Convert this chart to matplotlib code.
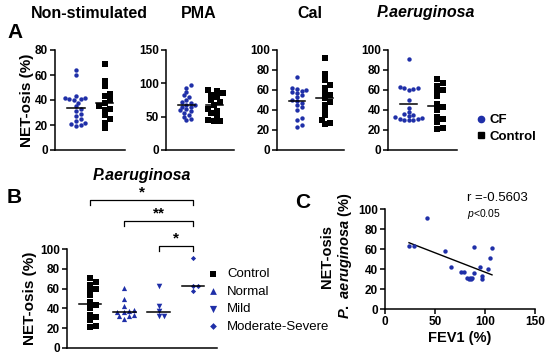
import numpy as np
import matplotlib.pyplot as plt
from matplotlib.lines import Line2D

plt.rcParams['font.family'] = ['Liberation Sans', 'DejaVu Sans']
plt.rcParams['font.weight'] = 'bold'
plt.rcParams['axes.labelweight'] = 'bold'
plt.rcParams['mathtext.fontset'] = 'custom'
plt.rcParams['mathtext.rm'] = 'Liberation Sans:bold'
plt.rcParams['mathtext.it'] = 'Liberation Sans:italic:bold'
plt.rcParams['mathtext.sf'] = 'Liberation Sans:italic:normal'

BLUE = '#1f2fa8'
W, H = 550, 359

# ---------------- data ----------------
# panel A: CF vs Control, four stimuli
a_titles = ['Non-stimulated', 'PMA', 'Cal', 'P.aeruginosa']
a_ymax = [80, 150, 100, 100]
a_ystep = [20, 50, 20, 20]
a_cf = [
    [64, 60, 43, 42, 42, 41, 41, 40, 38, 35, 33, 31, 29, 27, 25, 23, 22, 21, 20, 19],
    [97, 93, 87, 82, 80, 75, 72, 70, 68, 67, 65, 64, 62, 60, 58, 56, 53, 50, 47, 45],
    [73, 62, 61, 60, 59, 58, 57, 55, 53, 50, 49, 47, 45, 43, 40, 32, 30, 25, 23],
    [91, 63, 62, 62, 61, 60, 50, 42, 38, 36, 35, 34, 33, 32, 31, 31, 30, 30, 30],
]
a_ctrl = [
    [69, 55, 51, 45, 43, 40, 38, 35, 33, 32, 28, 25, 22, 18],
    [90, 88, 85, 83, 80, 75, 72, 68, 62, 58, 55, 50, 45, 43, 43],
    [92, 76, 70, 65, 62, 57, 55, 52, 48, 45, 40, 35, 30, 27, 26],
    [71, 67, 64, 60, 59, 54, 46, 43, 40, 33, 31, 28, 22, 21],
]
a_cf_lines = [34, 67, 49, 46]
a_ctrl_lines = [38, 67, 52, 44]

# panel B: P.aeruginosa by disease severity
b_groups = ['Control', 'Normal', 'Mild', 'Moderate-Severe']
b_values = [
    [71, 67, 64, 60, 59, 54, 46, 43, 40, 33, 31, 28, 22, 21],
    [61, 50, 42, 38, 37, 36, 36, 33, 32, 32, 29],
    [63, 42, 37, 32, 32],
    [91, 63, 63, 58],
]
b_lines = [44, 36, 36, 63]
b_stars = ['*', '**', '*']
b_pairs = [(0, 3), (1, 3), (2, 3)]

# panel C: correlation with FEV1
fev1 = [24, 29, 42, 60, 66, 76, 79, 89, 89, 82, 84, 85, 86, 87, 95, 97, 97, 103, 105, 107]
net_pa = [63, 63, 91, 58, 42, 37, 37, 62, 36, 31, 30, 31, 30, 31, 42, 33, 30, 40, 51, 61]
r_text = 'r =-0.5603'


def box(x0, x1, y0, y1):
    # pixel rectangle -> figure fraction
    return [x0 / W, 1 - y1 / H, (x1 - x0) / W, (y1 - y0) / H]


def swarm(vals, center, sx, sy, d=3.6):
    # simple beeswarm: sx, sy are pixels per data unit
    vals = np.asarray(vals, float)
    xs = np.zeros(len(vals))
    placed = []
    step = d * 0.6
    for i in np.argsort(vals):
        y = vals[i] * sy
        for k in range(80):
            off = ((k + 1) // 2) * step * (1 if k % 2 else -1)
            if all((off - px) ** 2 + (y - py) ** 2 >= d * d for px, py in placed):
                break
        placed.append((off, y))
        xs[i] = center + off / sx
    return xs


def style(ax, xticks=False):
    for s in ['top', 'right']:
        ax.spines[s].set_visible(False)
    for s in ['left', 'bottom']:
        ax.spines[s].set_linewidth(1.1)
    ax.tick_params(axis='y', length=3.5, width=1.1, labelsize=8.5, pad=1.5)
    if xticks:
        ax.tick_params(axis='x', length=3.5, width=1.1, labelsize=8.5, pad=1.5)
    else:
        ax.set_xticks([])


fig = plt.figure(figsize=(5.5, 3.59), dpi=100)

# ---------------- panel A ----------------
a_px = [(55, 125), (166, 234), (277, 344), (388, 457)]
a_tx = [89, 199, 310, 426]
for i in range(4):
    ax = fig.add_axes(box(a_px[i][0], a_px[i][1], 50, 150))
    xl = (-0.73, 1.71)
    sx = (a_px[i][1] - a_px[i][0]) / (xl[1] - xl[0])
    sy = 100 / a_ymax[i]
    ax.scatter(swarm(a_cf[i], 0, sx, sy, 3.8), a_cf[i], s=10, color=BLUE,
               linewidths=0, clip_on=False, zorder=3)
    ax.scatter(swarm(a_ctrl[i], 1, sx, sy, 4.8), a_ctrl[i], s=13, marker='s',
               color='black', linewidths=0, clip_on=False, zorder=3)
    ax.plot([-0.3, 0.3], [a_cf_lines[i]] * 2, color='black', lw=1.1, zorder=4)
    ax.plot([0.7, 1.3], [a_ctrl_lines[i]] * 2, color='black', lw=1.1, zorder=4)
    ax.set_xlim(*xl)
    ax.set_ylim(0, a_ymax[i])
    ax.set_yticks(np.arange(0, a_ymax[i] + 1, a_ystep[i]))
    style(ax)
    fig.text(a_tx[i] / W, 1 - 13 / H, a_titles[i], fontsize=11.5, ha='center',
             va='center', style='italic' if i == 3 else 'normal')
    if i == 3:
        handles = [Line2D([], [], marker='o', ls='', color=BLUE, ms=4.5),
                   Line2D([], [], marker='s', ls='', color='black', ms=4.5)]
        fig.legend(handles, ['CF', 'Control'], loc='center left',
                   bbox_to_anchor=(476 / W, 1 - 128.5 / H), frameon=False,
                   handlelength=0.7, handletextpad=0.3, labelspacing=0.35,
                   fontsize=9.5, borderaxespad=0, borderpad=0)

fig.text(27 / W, 1 - 100 / H, 'NET-osis (%)', rotation=90, fontsize=11,
         ha='center', va='center')
fig.text(15 / W, 1 - 32 / H, 'A', fontsize=15, ha='center', va='center')

# ---------------- panel B ----------------
axb = fig.add_axes(box(67, 217, 249, 348))
bxl = (-0.67, 3.7)
bsx = 150 / (bxl[1] - bxl[0])
bsy = 99 / 100
b_marks = [('s', 'black', 13, 4.8), ('^', BLUE, 14, 4.2),
           ('v', BLUE, 16, 4.2), ('D', BLUE, 7, 3.8)]
for g in range(4):
    m, c, s, d = b_marks[g]
    axb.scatter(swarm(b_values[g], g, bsx, bsy, d), b_values[g], s=s, marker=m,
                color=c, linewidths=0, clip_on=False, zorder=3, label=b_groups[g])
    axb.plot([g - 0.33, g + 0.33], [b_lines[g]] * 2, color='black', lw=1.1, zorder=4)
axb.set_xlim(*bxl)
axb.set_ylim(0, 100)
axb.set_yticks(np.arange(0, 101, 20))
style(axb)
axb.set_ylabel('NET-osis (%)', fontsize=11, labelpad=2)

b_bracket_y = [149.5, 128, 103]
for (g0, g1), yb, st in zip(b_pairs, b_bracket_y, b_stars):
    axb.plot([g0, g0, g1, g1], [yb - 5, yb, yb, yb - 5], color='black', lw=0.9,
             clip_on=False)
    axb.text((g0 + g1) / 2, yb + 1, st, fontsize=11, ha='center', va='bottom')

leg = axb.legend(loc='upper left', bbox_to_anchor=(206 / W, 1 - 268 / H),
                 bbox_transform=fig.transFigure, frameon=False, fontsize=9.5,
                 handlelength=1.0, handletextpad=0.6, labelspacing=0.4,
                 borderaxespad=0, borderpad=0, markerscale=1.3)
for t in leg.get_texts():
    t.set_fontweight('normal')

fig.text(142 / W, 1 - 176 / H, 'P.aeruginosa', fontsize=11.5, style='italic',
         ha='center', va='center')
fig.text(14 / W, 1 - 197 / H, 'B', fontsize=15, ha='center', va='center')

# ---------------- panel C ----------------
axc = fig.add_axes(box(385, 535, 209, 309))
axc.scatter(fev1, net_pa, s=10, color=BLUE, linewidths=0, zorder=3, clip_on=False)
k, b0 = np.polyfit(fev1, net_pa, 1)
xx = np.array([min(fev1), max(fev1)])
axc.plot(xx, k * xx + b0, color='black', lw=1.0)
axc.set_xlim(0, 150)
axc.set_ylim(0, 100)
axc.set_xticks([0, 50, 100, 150])
axc.set_yticks(np.arange(0, 101, 20))
style(axc, xticks=True)
axc.set_xlabel('FEV1 (%)', fontsize=10.5, labelpad=2)
fig.text(337 / W, 1 - 256 / H, 'NET-osis\n$\\mathit{P.\\ aeruginosa}$ (%)',
         rotation=90, fontsize=10.5, ha='center', va='center',
         multialignment='center', linespacing=1.15)
fig.text(467 / W, 1 - 198 / H, r_text, fontsize=9.5, fontweight='normal',
         ha='left', va='center')
fig.text(467 / W, 1 - 214 / H, '$\\mathsf{p}$<0.05', fontsize=7.5,
         fontweight='normal', ha='left', va='center')
fig.text(303 / W, 1 - 203 / H, 'C', fontsize=15, ha='center', va='center')

fig.savefig('out.png', dpi=100)
